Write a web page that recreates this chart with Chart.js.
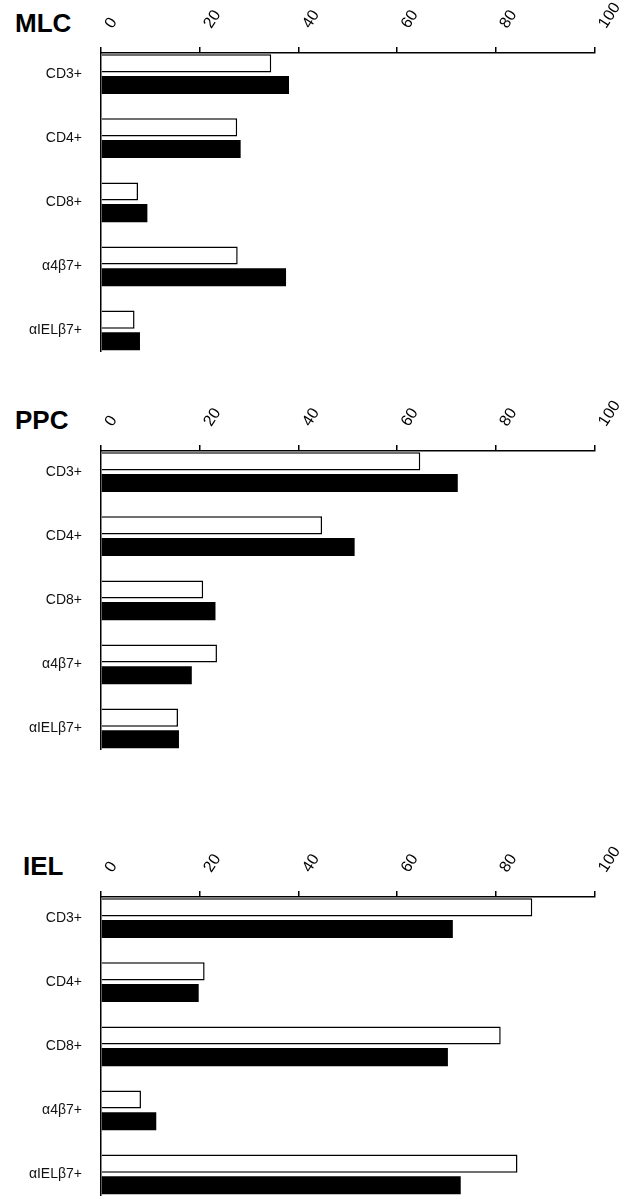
<!DOCTYPE html>
<html>
<head>
<meta charset="utf-8">
<script src="https://cdn.jsdelivr.net/npm/chart.js@4"></script>
<style>
  body { margin: 0; background: #fff; }
  #page { position: relative; width: 624px; height: 1199px; overflow: hidden; }
  .panel { position: absolute; left: 0; width: 624px; height: 379px; }
  .title { position: absolute; font: bold 26px "Liberation Sans", Arial, sans-serif; line-height: 26px; color: #000; }
</style>
</head>
<body>
<div id="page">
  <div class="title" style="left:15px; top:10px;">MLC</div>
  <div class="panel" style="top:0px;"><canvas id="mlcChart"></canvas></div>
  <div class="title" style="left:15px; top:407px;">PPC</div>
  <div class="panel" style="top:398px;"><canvas id="ppcChart"></canvas></div>
  <div class="title" style="left:23px; top:853px;">IEL</div>
  <div class="panel" style="top:844px;"><canvas id="ielChart"></canvas></div>
</div>
<script>
// Data (% positive cells)
const categories = ['CD3+', 'CD4+', 'CD8+', 'α4β7+', 'αIELβ7+'];
const xTicks = [0, 20, 40, 60, 80, 100];

const mlcOpen = [34.5, 27.6, 7.5, 27.7, 6.8];
const mlcFilled = [38.1, 28.3, 9.4, 37.5, 7.9];

const ppcOpen = [64.7, 44.8, 20.7, 23.5, 15.6];
const ppcFilled = [72.3, 51.4, 23.2, 18.4, 15.8];

const ielOpen = [87.4, 21.0, 81.0, 8.1, 84.4];
const ielFilled = [71.3, 19.8, 70.3, 11.2, 72.9];

const font = '"Liberation Sans", Arial, sans-serif';

function makeChart(id, openData, filledData) {
  const ctx = document.getElementById(id).getContext('2d');
  return new Chart(ctx, {
    type: 'bar',
    data: {
      datasets: [
        {
          data: openData.map((v, i) => ({ x: v, y: i })),
          backgroundColor: '#ffffff',
          borderColor: '#000000',
          borderWidth: 1.5
        },
        {
          data: filledData.map((v, i) => ({ x: v, y: i })),
          backgroundColor: '#000000',
          borderColor: '#000000',
          borderWidth: 0
        }
      ]
    },
    options: {
      indexAxis: 'y',
      responsive: true,
      maintainAspectRatio: false,
      animation: false,
      categoryPercentage: 0.675,
      barPercentage: 0.837,
      layout: { padding: { left: 0, top: 0, right: 29, bottom: 2 } },
      plugins: {
        legend: { display: false },
        tooltip: { enabled: false }
      },
      scales: {
        x: {
          type: 'linear',
          position: 'top',
          min: 0,
          max: 100,
          afterFit: function(scale) { scale.height = 53; },
          afterBuildTicks: function(scale) {
            scale.ticks = xTicks.map(v => ({ value: v }));
          },
          ticks: {
            autoSkip: false,
            minRotation: 57,
            maxRotation: 57,
            labelOffset: 24,
            padding: 15,
            color: '#000',
            font: { family: font, size: 16 }
          },
          grid: {
            drawOnChartArea: false,
            drawTicks: true,
            tickLength: 6,
            color: '#000',
            lineWidth: 1.5
          },
          border: { display: true, color: '#000', width: 1.5 }
        },
        y: {
          type: 'linear',
          reverse: true,
          offset: false,
          bounds: 'data',
          min: -0.33,
          max: 4.33,
          afterFit: function(scale) { scale.width = 101; },
          // one tick per category
          afterBuildTicks: function(scale) {
            scale.ticks = categories.map((c, i) => ({ value: i }));
          },
          ticks: {
            autoSkip: false,
            padding: 19,
            color: '#111',
            font: { family: font, size: 14 },
            callback: function(value) {
              return categories[value] !== undefined ? categories[value] : '';
            }
          },
          grid: { display: false, drawTicks: false, offset: false },
          border: { display: true, color: '#000', width: 1.5 }
        }
      }
    }
  });
}

makeChart('mlcChart', mlcOpen, mlcFilled);
makeChart('ppcChart', ppcOpen, ppcFilled);
makeChart('ielChart', ielOpen, ielFilled);
</script>
</body>
</html>
